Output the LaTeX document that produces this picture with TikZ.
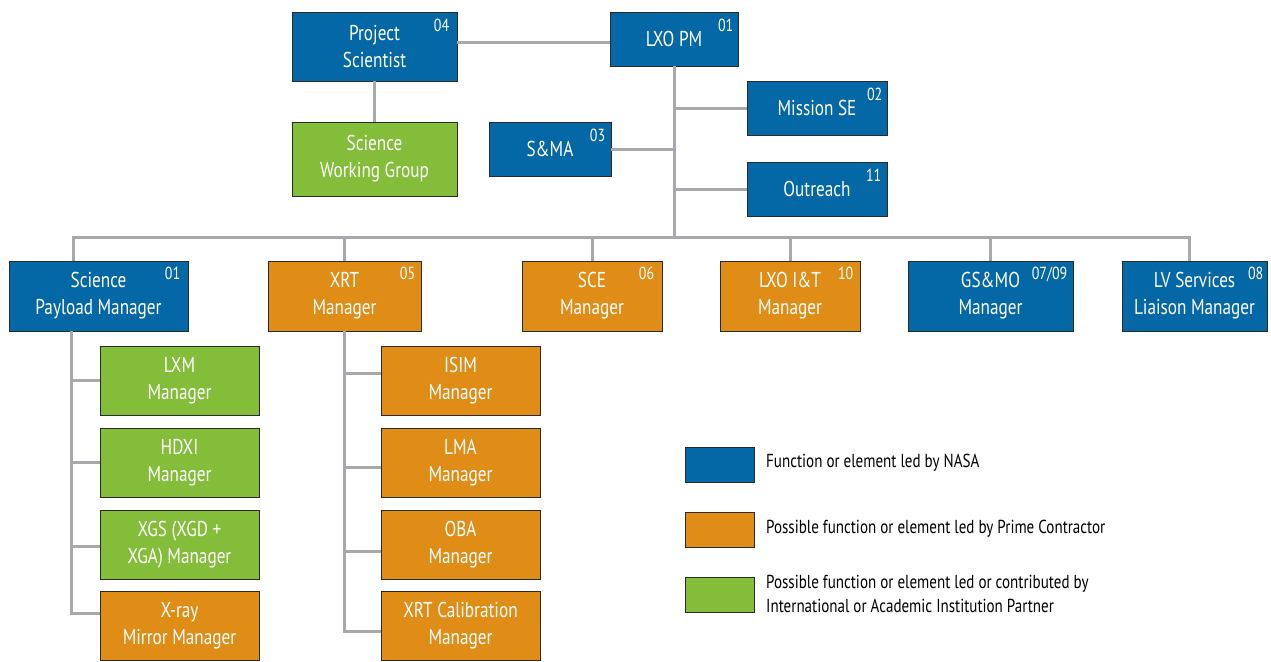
\documentclass[tikz,border=0pt]{standalone}
\usepackage{fontspec}
\setmainfont{PT Sans}[FakeStretch=0.86]
\newfontfamily\boxfont{PT Sans}[FakeStretch=0.8]
\definecolor{nasablue}{HTML}{0568A6}
\definecolor{primeorange}{HTML}{E08D17}
\definecolor{partnergreen}{HTML}{84BD3A}
\definecolor{linegray}{HTML}{A7A9AC}
\definecolor{edgedark}{HTML}{2B2B2B}
\tikzset{
  orgbox/.style={draw=edgedark, line width=0.9pt, align=center, text=white, inner sep=0pt,
    font=\boxfont\fontsize{21.5}{27}\selectfont, minimum height=54pt},
  blue/.style={orgbox, fill=nasablue},
  orange/.style={orgbox, fill=primeorange},
  green/.style={orgbox, fill=partnergreen},
  numtag/.style={text=white, inner sep=0pt, anchor=north east, font=\boxfont\fontsize{17.5}{18}\selectfont},
  conn/.style={draw=linegray, line width=3pt},
  legbox/.style={draw=edgedark, line width=0.9pt, minimum width=69pt, minimum height=35pt, inner sep=0pt},
  legtext/.style={anchor=west, align=left, inner sep=0pt, text=black, font=\boxfont\fontsize{18.8}{24}\selectfont}
}
\begin{document}
\begin{tikzpicture}[x=1pt,y=-1pt]
\useasboundingbox (0,0) rectangle (1271,661);
% top level
\node[blue, minimum width=165pt, minimum height=69pt] (ps) at (374.5,46.5) {Project\\Scientist};
\node[blue, minimum width=128pt] (pm) at (674,39) {LXO PM};
\node[green, minimum width=165pt, minimum height=74pt] (swg) at (374.5,159) {Science\\Working Group};
\node[blue, minimum width=122pt] (sma) at (550,149) {S\&MA};
\node[blue, minimum width=140pt] (mse) at (817,108) {Mission SE};
\node[blue, minimum width=140pt] (out) at (817,189) {Outreach};
% second row
\node[blue, minimum width=179pt, minimum height=70pt] (spm) at (98.5,296) {Science\\Payload Manager};
\node[orange, minimum width=153pt, minimum height=70pt] (xrt) at (344.5,296) {XRT\\Manager};
\node[orange, minimum width=140pt, minimum height=70pt] (sce) at (592,296) {SCE\\Manager};
\node[orange, minimum width=140pt, minimum height=70pt] (int) at (790,296) {LXO I\&T\\Manager};
\node[blue, minimum width=165pt, minimum height=70pt] (gs) at (990.5,296) {GS\&MO\\Manager};
\node[blue, minimum width=145pt, minimum height=70pt] (lv) at (1194.5,296) {LV Services\\Liaison Manager};
% science payload subtree
\node[green, minimum width=159pt, minimum height=69pt] (lxm) at (179.5,380.5) {LXM\\Manager};
\node[green, minimum width=159pt, minimum height=69pt] (hdxi) at (179.5,462.5) {HDXI\\Manager};
\node[green, minimum width=159pt, minimum height=69pt] (xgs) at (179.5,544.5) {XGS (XGD +\\XGA) Manager};
\node[orange, minimum width=159pt, minimum height=69pt] (xmm) at (179.5,625.5) {X-ray\\Mirror Manager};
% XRT subtree
\node[orange, minimum width=159pt, minimum height=69pt] (isim) at (460.5,380.5) {ISIM\\Manager};
\node[orange, minimum width=159pt, minimum height=69pt] (lma) at (460.5,462.5) {LMA\\Manager};
\node[orange, minimum width=159pt, minimum height=69pt] (oba) at (460.5,544.5) {OBA\\Manager};
\node[orange, minimum width=159pt, minimum height=69pt] (cal) at (460.5,625.5) {XRT Calibration\\Manager};
% number tags
\node[numtag] (psn) at ([xshift=-8pt,yshift=-7pt]ps.north east) {04};
\node[numtag] (pmn) at ([xshift=-5pt,yshift=-7pt]pm.north east) {01};
\node[numtag] (sman) at ([xshift=-6pt,yshift=-7pt]sma.north east) {03};
\node[numtag] (msen) at ([xshift=-5pt,yshift=-7pt]mse.north east) {02};
\node[numtag] (outn) at ([xshift=-6pt,yshift=-7pt]out.north east) {11};
\node[numtag] (spmn) at ([xshift=-8pt,yshift=-6pt]spm.north east) {01};
\node[numtag] (xrtn) at ([xshift=-6pt,yshift=-6pt]xrt.north east) {05};
\node[numtag] (scen) at ([xshift=-8pt,yshift=-6pt]sce.north east) {06};
\node[numtag] (intn) at ([xshift=-7pt,yshift=-6pt]int.north east) {10};
\node[numtag] (gsn) at ([xshift=-6pt,yshift=-6pt]gs.north east) {07/09};
\node[numtag] (lvn) at ([xshift=-4pt,yshift=-6pt]lv.north east) {08};
% connectors
\draw[conn] ([yshift=3.5pt]ps.east) -- ([yshift=-4pt]pm.west);
\draw[conn] (ps.south) -- (swg.north);
\coordinate (bus) at (674,237);
\draw[conn] (pm.south) -- (bus);
\draw[conn] (pm.south |- mse.west) -- (mse.west);
\draw[conn] (pm.south |- sma.east) -- (sma.east);
\draw[conn] (pm.south |- out.west) -- (out.west);
\coordinate (spmtop) at ([xshift=-25.5pt]spm.north);
\coordinate (lvtop) at ([xshift=-5.5pt]lv.north);
\draw[conn] (spmtop) -- (spmtop |- bus) -- (lvtop |- bus) -- (lvtop);
\draw[conn] (xrt.north) -- (xrt.north |- bus);
\draw[conn] (sce.north) -- (sce.north |- bus);
\draw[conn] (int.north) -- (int.north |- bus);
\draw[conn] (gs.north) -- (gs.north |- bus);
% SPM subtree
\coordinate (spmbot) at ([xshift=-27.5pt]spm.south);
\coordinate (xmmin) at ([yshift=12.5pt]xmm.west);
\draw[conn] (spmbot) |- (xmmin);
\draw[conn] (spmbot |- lxm.west) -- (lxm.west);
\draw[conn] (spmbot |- hdxi.west) -- (hdxi.west);
\draw[conn] ([yshift=-2pt]spmbot |- xgs.west) -- ([yshift=-2pt]xgs.west);
% XRT subtree
\coordinate (isimin) at ([yshift=7pt]isim.west);
\coordinate (lmain) at ([yshift=-5pt]lma.west);
\coordinate (obain) at ([yshift=-6.5pt]oba.west);
\coordinate (calin) at ([yshift=-6pt]cal.west);
\draw[conn] (xrt.south) |- (calin);
\draw[conn] (xrt.south |- isimin) -- (isimin);
\draw[conn] (xrt.south |- lmain) -- (lmain);
\draw[conn] (xrt.south |- obain) -- (obain);
% legend
\node[legbox, fill=nasablue] (lb) at (719.5,464.5) {};
\node[legbox, fill=primeorange] (lo) at (719.5,529.5) {};
\node[legbox, fill=partnergreen] (lg) at (719.5,594.5) {};
\node[legtext] (lbt) at (766,463) {Function or element led by NASA};
\node[legtext] (lot) at (766,529) {Possible function or element led by Prime Contractor};
\node[legtext] (lgt) at (766,594) {Possible function or element led or contributed by\\International or Academic Institution Partner};
\end{tikzpicture}
\end{document}
